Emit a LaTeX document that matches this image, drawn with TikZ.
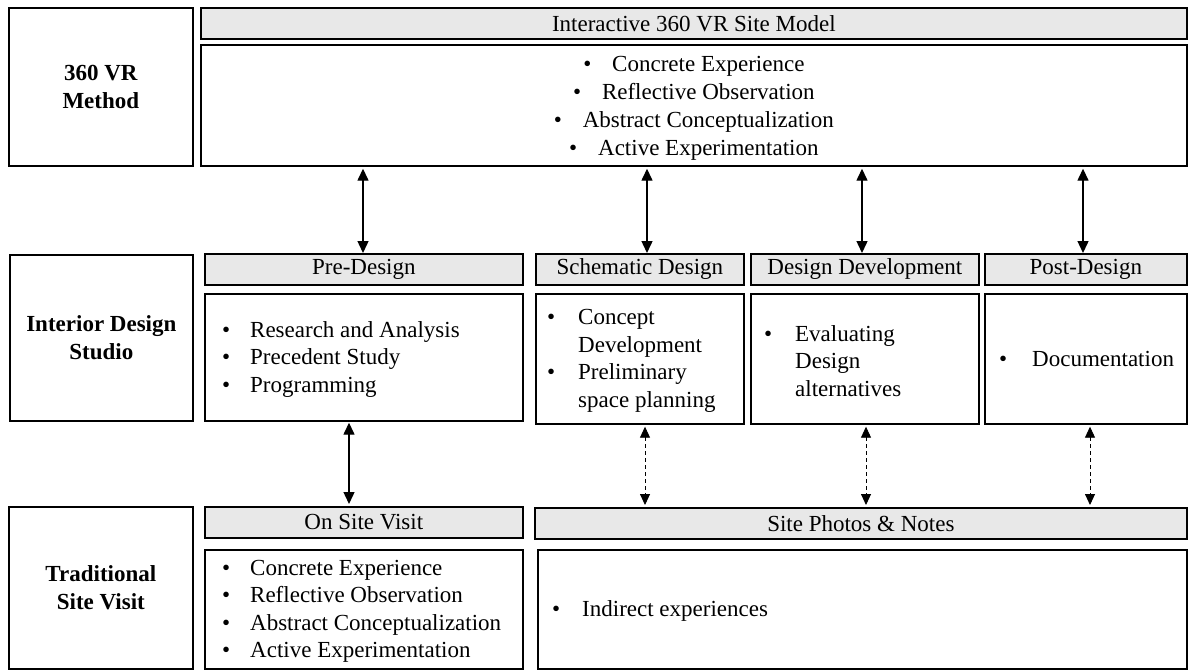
\documentclass[tikz,border=0pt]{standalone}
\usepackage{fontspec}
\setmainfont{Liberation Serif}
\usetikzlibrary{arrows.meta,calc}
\newcommand\mybul[1][28pt]{\makebox[#1][l]{\textbullet}}
\begin{document}
\begin{tikzpicture}[x=1pt,y=-1pt,
  box/.style={draw=black, line width=1.7pt, inner sep=0pt, anchor=north west},
  hdr/.style={box, fill=black!9, font=\fontsize{23}{28}\selectfont},
  lbl/.style={font=\fontsize{23}{28}\selectfont\bfseries, align=center},
  txt/.style={font=\fontsize{23}{27.5}\selectfont, inner sep=0pt, align=left, anchor=west},
  biarrow/.style={line width=1.4pt, {Triangle[width=11pt,length=12pt]}-{Triangle[width=11pt,length=12pt]}},
  dasharrow/.style={line width=0.9pt, dash pattern=on 4pt off 3pt, {Triangle[width=10pt,length=11pt]}-{Triangle[width=10pt,length=11pt]}}
]
\useasboundingbox (0,0) rectangle (1188,670);
\fill[white] (0,0) rectangle (1188,670);

% row 1
\node[box, lbl, minimum width=184pt, minimum height=158pt] (vrL) at (8,7) {360 VR\\Method};
\node[hdr, minimum width=986pt, minimum height=31pt] (vrH) at (200,7) {Interactive 360 VR Site Model};
\node[box, minimum width=986pt, minimum height=121pt] (vrC) at (200,44) {};
\node[txt, anchor=center, align=center, font=\fontsize{23}{28}\selectfont] (vrT) at ([yshift=-3pt]vrC.center)
  {\mybul[29pt]Concrete Experience\\\mybul[29pt]Reflective Observation\\\mybul[29pt]Abstract Conceptualization\\\mybul[29pt]Active Experimentation};

% row 2
\node[box, lbl, minimum width=183pt, minimum height=166pt] (idL) at (9,254) {Interior Design\\Studio};
\node[hdr, minimum width=318pt, minimum height=31pt] (preH) at (204,253) {Pre-Design};
\node[box, minimum width=318pt, minimum height=127pt] (preC) at (204,293) {};
\node[hdr, minimum width=208pt, minimum height=31pt] (schH) at (535,253) {Schematic Design};
\node[box, minimum width=208pt, minimum height=130pt] (schC) at (535,293) {};
\node[hdr, minimum width=228pt, minimum height=31pt] (ddH) at (750,253) {Design Development};
\node[box, minimum width=228pt, minimum height=130pt] (ddC) at (750,293) {};
\node[hdr, minimum width=202pt, minimum height=31pt] (postH) at (984,253) {Post-Design};
\node[box, minimum width=202pt, minimum height=130pt] (postC) at (984,293) {};

\node[txt] (preT) at ([xshift=18pt,yshift=-2pt]preC.west) {\mybul Research and Analysis\\\mybul Precedent Study\\\mybul Programming};
\node[txt] (schT) at ([xshift=12pt,yshift=-2pt]schC.west) {\mybul[31pt]Concept\\\hspace*{31pt}Development\\\mybul[31pt]Preliminary\\\hspace*{31pt}space planning};
\node[txt] (ddT) at ([xshift=14pt,yshift=-2pt]ddC.west) {\mybul[31pt]Evaluating\\\hspace*{31pt}Design\\\hspace*{31pt}alternatives};
\node[txt] (postT) at ([xshift=15pt]postC.west) {\mybul[33pt]Documentation};

% row 3
\node[box, lbl, minimum width=184pt, minimum height=162pt] (tsL) at (8,506) {Traditional\\Site Visit};
\node[hdr, minimum width=318pt, minimum height=31pt] (onH) at (204,506) {On Site Visit};
\node[box, minimum width=318pt, minimum height=119pt] (onC) at (204,549) {};
\node[hdr, minimum width=652pt, minimum height=31pt] (spH) at (534,507) {Site Photos \& Notes};
\node[box, minimum width=649pt, minimum height=119pt] (spC) at (537,549) {};

\node[txt] (onT) at ([xshift=18pt,yshift=-2pt]onC.west) {\mybul Concrete Experience\\\mybul Reflective Observation\\\mybul Abstract Conceptualization\\\mybul Active Experimentation};
\node[txt] (spT) at ([xshift=15pt,yshift=-2pt]spC.west) {\mybul[30pt]Indirect experiences};

% connectors
\coordinate (c1) at (363,0);
\coordinate (c2) at (647,0);
\coordinate (c3) at (862,0);
\coordinate (c4) at (1083,0);
\coordinate (c5) at (349,0);
\coordinate (d1) at (645,0);
\coordinate (d2) at (866,0);
\coordinate (d3) at (1090,0);

\draw[biarrow, shorten <=2pt] (vrC.south -| c1) -- (preH.north -| c1);
\draw[biarrow, shorten <=2pt] (vrC.south -| c2) -- (schH.north -| c2);
\draw[biarrow, shorten <=2pt] (vrC.south -| c3) -- (ddH.north -| c3);
\draw[biarrow, shorten <=2pt] (vrC.south -| c4) -- (postH.north -| c4);
\draw[biarrow, shorten <=1pt, shorten >=2pt] (preC.south -| c5) -- (onH.north -| c5);
\draw[dasharrow, shorten <=2pt, shorten >=2pt] (schC.south -| d1) -- (spH.north -| d1);
\draw[dasharrow, shorten <=2pt, shorten >=2pt] (ddC.south -| d2) -- (spH.north -| d2);
\draw[dasharrow, shorten <=2pt, shorten >=2pt] (postC.south -| d3) -- (spH.north -| d3);
\end{tikzpicture}
\end{document}
